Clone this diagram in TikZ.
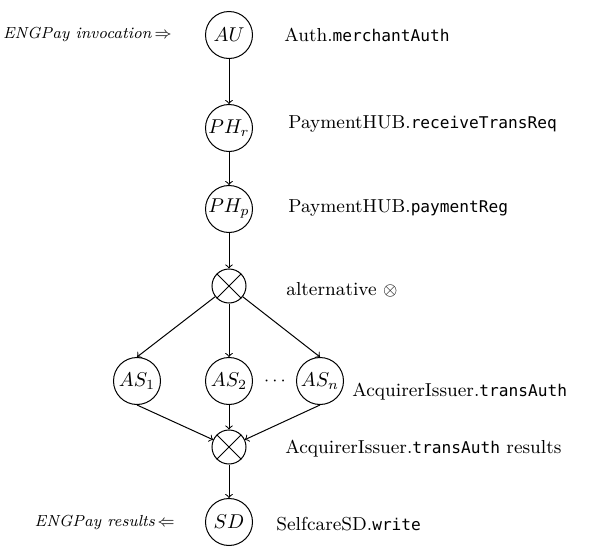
\documentclass[tikz,border=0pt]{standalone}
\usepackage{fontspec}
\newfontfamily\mymono{DejaVu Sans Mono}[Scale=0.86]
\newcommand{\mt}[1]{{\mymono #1}}
\begin{document}
\begin{tikzpicture}[x=0.5pt,y=-0.5pt,
  font=\fontsize{9.4}{11}\selectfont,
  st/.style={circle,draw,line width=0.5pt,minimum size=23.5pt,inner sep=0pt,font=\fontsize{10}{12}\selectfont},
  ox/.style={circle,draw,line width=0.5pt,minimum size=17pt,inner sep=0pt},
  lbl/.style={anchor=west,inner sep=0pt},
  lblr/.style={anchor=east,inner sep=0pt,font=\fontsize{8.0}{10}\selectfont},
  arr/.style={->,line width=0.5pt}]
\useasboundingbox (0,0) rectangle (601,552);
% states
\node[st] (au)  at (229,35)  {$AU$};
\node[st] (phr) at (229,128) {$PH_r$};
\node[st] (php) at (229,209) {$PH_p$};
\node[ox] (alt) at (229,286) {};
\node[st] (as1) at (137,381) {$AS_1$};
\node[st] (as2) at (229,381) {$AS_2$};
\node[st] (asn) at (320,381) {$AS_n$};
\node[ox] (join) at (229,447) {};
\node[st] (sd)  at (229,522) {$SD$};
\node (dots) at (275,381) {$\cdots$};
% crosses
\draw[line width=0.5pt] (alt.45) -- (alt.225) (alt.135) -- (alt.315);
\draw[line width=0.5pt] (join.45) -- (join.225) (join.135) -- (join.315);
% connectors
\draw[arr] (au) -- (phr);
\draw[arr] (phr) -- (php);
\draw[arr] (php) -- (alt);
\draw[arr] (alt) -- (as1.north);
\draw[arr] (alt) -- (as2.north);
\draw[arr] (alt) -- (asn.north);
\draw[arr] (as1.south) -- (join);
\draw[arr] (as2.south) -- (join);
\draw[arr] (asn.south) -- (join);
\draw[arr] (join) -- (sd);
% labels
\node[lblr] (inv) at (172,34) {\textit{ENGPay invocation}\,$\Rightarrow$};
\node[lblr] (res) at (175,522) {\textit{ENGPay results}\,$\Leftarrow$};
\node[lbl] (l1) at (284,35) {Auth.\mt{merchantAuth}};
\node[lbl] (l2) at (288,124) {PaymentHUB.\mt{receiveTransReq}};
\node[lbl] (l3) at (288,208) {PaymentHUB.\mt{paymentReg}};
\node[lbl] (l4) at (286,290) {alternative $\otimes$};
\node[lbl] (l5) at (352,392) {AcquirerIssuer.\mt{transAuth}};
\node[lbl] (l6) at (285,449) {AcquirerIssuer.\mt{transAuth} results};
\node[lbl] (l7) at (276,524) {SelfcareSD.\mt{write}};
\end{tikzpicture}
\end{document}
